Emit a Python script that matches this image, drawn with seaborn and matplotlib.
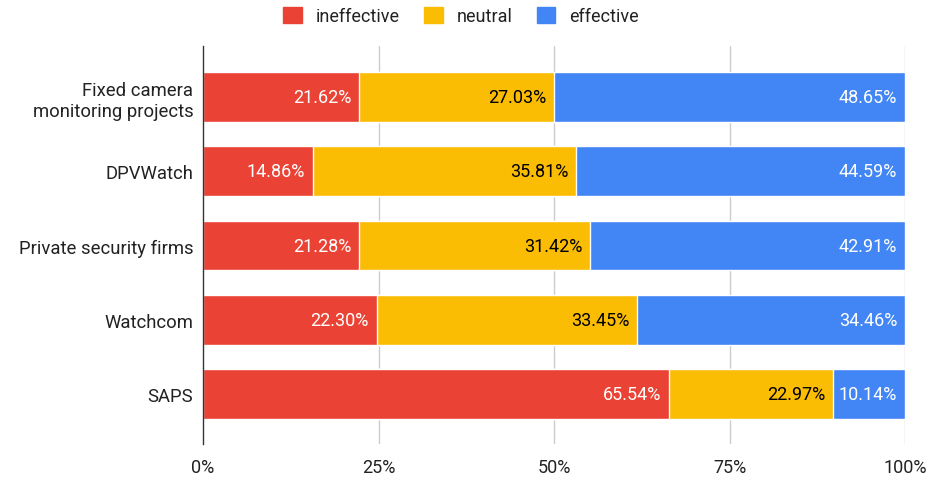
import matplotlib
matplotlib.use("Agg")
import matplotlib.pyplot as plt
import seaborn as sns
import numpy as np
import pandas as pd
from matplotlib.patches import Patch

categories = ["Fixed camera\nmonitoring projects", "DPVWatch", "Private security firms", "Watchcom", "SAPS"]
ineffective = [21.62, 14.86, 21.28, 22.30, 65.54]
neutral = [27.03, 35.81, 31.42, 33.45, 22.97]
effective = [48.65, 44.59, 42.91, 34.46, 10.14]
series_names = ["ineffective", "neutral", "effective"]
colors = ["#EA4335", "#FBBC04", "#4285F4"]
label_colors = ["white", "black", "white"]
xticks = [0, 25, 50, 75, 100]
xtick_labels = ["0%", "25%", "50%", "75%", "100%"]

sns.set_theme(style="white")
plt.rcParams["font.family"] = ["Roboto", "DejaVu Sans"]

vals = np.array([ineffective, neutral, effective])
totals = vals.sum(axis=0)
norm = vals / totals * 100
cum = np.cumsum(norm, axis=0)

fig = plt.figure(figsize=(9.52, 4.81), dpi=100)
ax = fig.add_axes([203/952, 36/481, (905-203)/952, (445-47)/481])

for i in [2, 1, 0]:
    df = pd.DataFrame({"cat": categories, "val": cum[i]})
    sns.barplot(data=df, y="cat", x="val", color=colors[i], orient="h",
                width=0.67, ax=ax, saturation=1, zorder=3)

for i in range(3):
    for j in range(len(categories)):
        ax.text(cum[i][j] - 1.1, j, f"{vals[i][j]:.2f}%", ha="right", va="center",
                color=label_colors[i], fontsize=13, zorder=5)

ax.set_xlim(0, 100)
ax.set_ylim(4.673, -0.687)
ax.set_xticks(xticks)
ax.set_xticklabels(xtick_labels, fontsize=13, color="#222222")
ax.tick_params(axis="y", labelsize=13.3, labelcolor="#222222", length=0, pad=7)
ax.tick_params(axis="x", length=0, pad=10)
ax.set_xlabel("")
ax.set_ylabel("")
for x in xticks[1:]:
    ax.axvline(x, color="#CCCCCC", lw=1, zorder=1)
for s in ["top", "right", "bottom"]:
    ax.spines[s].set_visible(False)
ax.spines["left"].set_color("#333333")
ax.spines["left"].set_linewidth(1)
ax.spines["left"].set_zorder(4)

handles = [Patch(facecolor=c, edgecolor=c, label=n) for c, n in zip(colors, series_names)]
fig.legend(handles=handles, loc="center", bbox_to_anchor=(0.484, 1 - 17/481), ncol=3,
           frameon=False, fontsize=13, handlelength=1.05, handleheight=1.05,
           columnspacing=1.35, handletextpad=0.75, labelcolor="#222222")

fig.savefig("out.png", dpi=100)
